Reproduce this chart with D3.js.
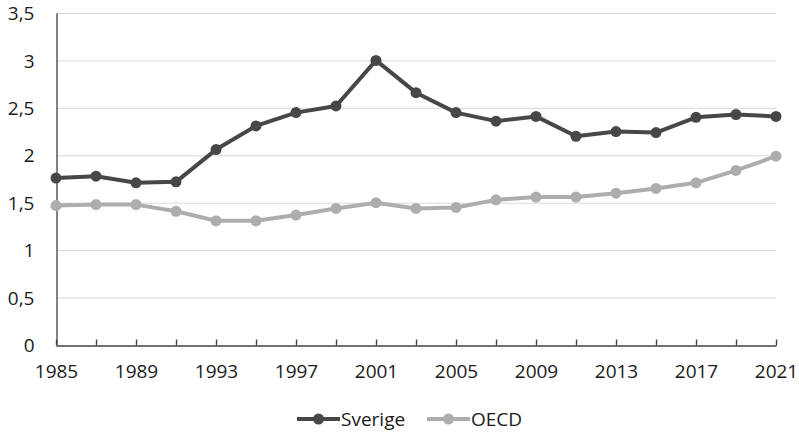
<!DOCTYPE html>
<html>
<head>
<meta charset="utf-8">
<script src="https://cdn.jsdelivr.net/npm/d3@7"></script>
<style>
  body { margin: 0; background: #fff; }
  svg text { font-family: 'Open Sans', sans-serif; fill: #1a1a1a; }
</style>
</head>
<body>
<svg></svg>
<script>
let years = [1985, 1987, 1989, 1991, 1993, 1995, 1997, 1999, 2001, 2003, 2005, 2007, 2009, 2011, 2013, 2015, 2017, 2019, 2021]
let sverige = [1.76, 1.78, 1.71, 1.72, 2.06, 2.31, 2.45, 2.52, 3.0, 2.66, 2.45, 2.36, 2.41, 2.20, 2.25, 2.24, 2.40, 2.43, 2.41]
let oecd = [1.47, 1.48, 1.48, 1.41, 1.31, 1.31, 1.37, 1.44, 1.50, 1.44, 1.45, 1.53, 1.56, 1.56, 1.60, 1.65, 1.71, 1.84, 1.99]
let yTicks = [0, 0.5, 1, 1.5, 2, 2.5, 3, 3.5]
let xLabels = [1985, 1989, 1993, 1997, 2001, 2005, 2009, 2013, 2017, 2021]
let seriesNames = ['Sverige', 'OECD']
let seriesColors = ['#474747', '#adadad']

let width = 799
let height = 433
let plotLeft = 56
let plotRight = 776
let plotTop = 13
let plotBottom = 345

let svg = d3.select('svg')
    .attr('width', width)
    .attr('height', height)

let xScale = d3.scaleLinear()
    .domain([1985, 2021])
    .range([plotLeft, plotRight])

let yScale = d3.scaleLinear()
    .domain([0, 3.5])
    .range([plotBottom, plotTop])

let fmt = (d) => String(d).replace('.', ',')

// gridlines
svg.append('g')
    .selectAll('line')
    .data(yTicks.filter(d => d > 0))
    .enter()
    .append('line')
    .attr('x1', plotLeft)
    .attr('x2', plotRight)
    .attr('y1', d => yScale(d) + 0.5)
    .attr('y2', d => yScale(d) + 0.5)
    .attr('stroke', '#d9d9d9')
    .attr('stroke-width', 1)

// y axis
let yAxis = d3.axisLeft(yScale)
    .tickValues(yTicks)
    .tickFormat(fmt)
    .tickSize(0)
    .tickPadding(22)

let yg = svg.append('g')
    .attr('transform', 'translate(' + (plotLeft + 0.5) + ',0)')
    .call(yAxis)
yg.select('.domain').attr('stroke', '#404040').attr('stroke-width', 1.3)
yg.selectAll('text').style('font-size', '19px').attr('dy', '0.35em')

// x axis
let xAxis = d3.axisBottom(xScale)
    .tickValues(years)
    .tickFormat(d => xLabels.includes(d) ? d : '')
    .tickSize(-6)
    .tickSizeOuter(0)
    .tickPadding(19)

let xg = svg.append('g')
    .attr('transform', 'translate(0,' + (plotBottom + 0.5) + ')')
    .call(xAxis)
xg.select('.domain').attr('stroke', '#404040').attr('stroke-width', 1.3)
xg.selectAll('.tick line').attr('stroke', '#404040').attr('stroke-width', 1.3)
xg.selectAll('text').style('font-size', '19px')

// lines
let allSeries = [oecd, sverige]
let allColors = [seriesColors[1], seriesColors[0]]

let line = d3.line()
    .x((d, i) => xScale(years[i]))
    .y(d => yScale(d))

allSeries.forEach((s, k) => {
    svg.append('path')
        .datum(s)
        .attr('d', line)
        .attr('fill', 'none')
        .attr('stroke', allColors[k])
        .attr('stroke-width', 4)
        .attr('stroke-linejoin', 'round')

    svg.append('g')
        .selectAll('circle')
        .data(s)
        .enter()
        .append('circle')
        .attr('cx', (d, i) => xScale(years[i]))
        .attr('cy', d => yScale(d))
        .attr('r', 5.5)
        .attr('fill', allColors[k])
})

// legend
let legendX = [297, 427]
let legendY = 419
seriesNames.forEach((name, k) => {
    let g = svg.append('g').attr('transform', 'translate(' + legendX[k] + ',' + legendY + ')')
    g.append('line')
        .attr('x1', 0).attr('x2', 43)
        .attr('y1', 0).attr('y2', 0)
        .attr('stroke', seriesColors[k])
        .attr('stroke-width', 4)
    g.append('circle')
        .attr('cx', 21.5).attr('cy', 0)
        .attr('r', 5.5)
        .attr('fill', seriesColors[k])
    g.append('text')
        .attr('x', 44)
        .attr('y', 0)
        .attr('dy', '0.35em')
        .style('font-size', '19px')
        .text(name)
})
</script>
</body>
</html>
